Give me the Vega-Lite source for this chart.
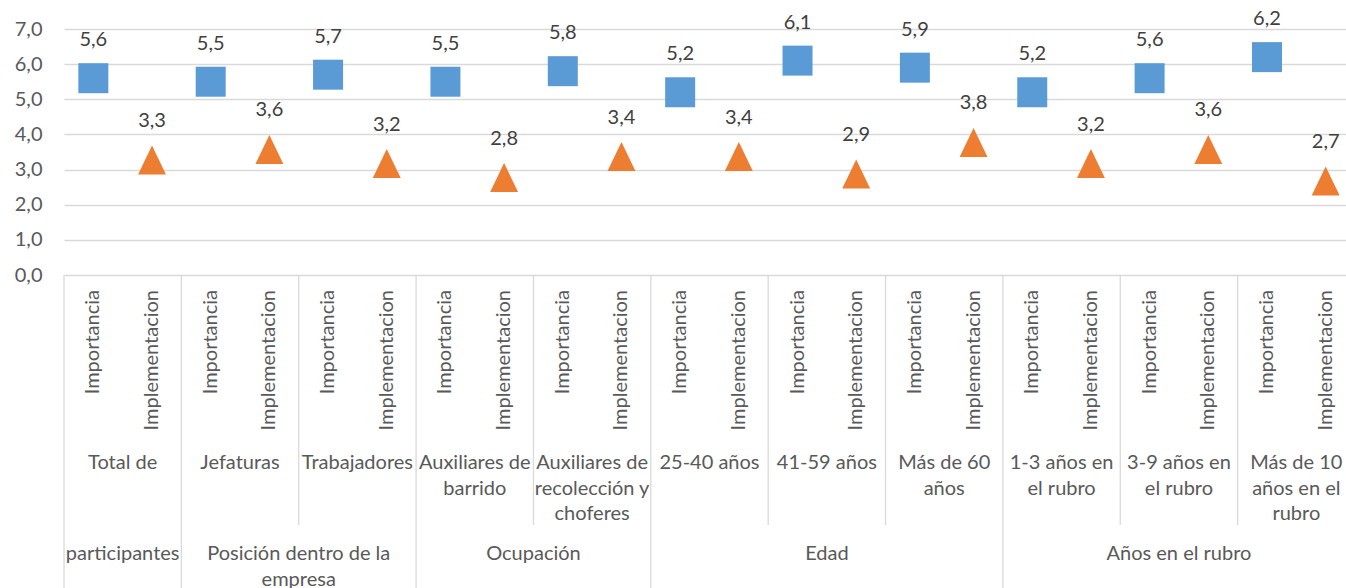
{
  "$schema": "https://vega.github.io/schema/vega-lite/v6.json",
  "autosize": {"type": "pad"},
  "padding": {"left": 14, "top": 9, "right": 0, "bottom": 0},
  "bounds": "flush",
  "spacing": 0,
  "config": {
    "locale": {"number": {"decimal": ",", "thousands": ".", "grouping": [3], "currency": ["", " €"]}},
    "font": "Lato",
    "view": {"stroke": null}
  },
  "datasets": {
    "puntos": [
      {"categoria": "Total de", "medida": "Importancia", "valor": 5.6},
      {"categoria": "Total de", "medida": "Implementacion", "valor": 3.3},
      {"categoria": "Jefaturas", "medida": "Importancia", "valor": 5.5},
      {"categoria": "Jefaturas", "medida": "Implementacion", "valor": 3.6},
      {"categoria": "Trabajadores", "medida": "Importancia", "valor": 5.7},
      {"categoria": "Trabajadores", "medida": "Implementacion", "valor": 3.2},
      {"categoria": "Auxiliares de\nbarrido", "medida": "Importancia", "valor": 5.5},
      {"categoria": "Auxiliares de\nbarrido", "medida": "Implementacion", "valor": 2.8},
      {"categoria": "Auxiliares de\nrecolección y\nchoferes", "medida": "Importancia", "valor": 5.8},
      {"categoria": "Auxiliares de\nrecolección y\nchoferes", "medida": "Implementacion", "valor": 3.4},
      {"categoria": "25-40 años", "medida": "Importancia", "valor": 5.2},
      {"categoria": "25-40 años", "medida": "Implementacion", "valor": 3.4},
      {"categoria": "41-59 años", "medida": "Importancia", "valor": 6.1},
      {"categoria": "41-59 años", "medida": "Implementacion", "valor": 2.9},
      {"categoria": "Más de 60\naños", "medida": "Importancia", "valor": 5.9},
      {"categoria": "Más de 60\naños", "medida": "Implementacion", "valor": 3.8},
      {"categoria": "1-3 años en\nel rubro", "medida": "Importancia", "valor": 5.2},
      {"categoria": "1-3 años en\nel rubro", "medida": "Implementacion", "valor": 3.2},
      {"categoria": "3-9 años en\nel rubro", "medida": "Importancia", "valor": 5.6},
      {"categoria": "3-9 años en\nel rubro", "medida": "Implementacion", "valor": 3.6},
      {"categoria": "Más de 10\naños en el\nrubro", "medida": "Importancia", "valor": 6.2},
      {"categoria": "Más de 10\naños en el\nrubro", "medida": "Implementacion", "valor": 2.7}
    ],
    "dimensiones": [
      {"dimension": "participantes", "desde": "Total de", "centro": "Total de", "grupos": 1},
      {"dimension": "Posición dentro de la\nempresa", "desde": "Jefaturas", "centro": "Trabajadores", "grupos": 2},
      {"dimension": "Ocupación", "desde": "Auxiliares de\nbarrido", "centro": "Auxiliares de\nrecolección y\nchoferes", "grupos": 2},
      {"dimension": "Edad", "desde": "25-40 años", "centro": "41-59 años", "grupos": 3},
      {"dimension": "Años en el rubro", "desde": "1-3 años en\nel rubro", "centro": "3-9 años en\nel rubro", "grupos": 3}
    ]
  },
  "vconcat": [
    {
      "width": 1291,
      "height": 246,
      "data": {"name": "puntos"},
      "encoding": {
        "y": {"field": "valor", "type": "quantitative",
          "scale": {"domain": [0, 7]},
          "axis": {"values": [0, 1, 2, 3, 4, 5, 6, 7], "format": ".1f", "title": null, "domain": false, "ticks": false,
            "labelPadding": 22, "labelFontSize": 20, "labelColor": "#595959", "labelFont": "Lato",
            "grid": true, "gridColor": "#d9d9d9", "gridWidth": 1.3}}
      },
      "layer": [
        {
          "transform": [{"filter": "datum.medida === 'Importancia'"}],
          "encoding": {
            "x": {"field": "categoria", "type": "nominal", "axis": null, "bandPosition": 0.25,
              "scale": {"type": "band", "paddingInner": 0, "paddingOuter": 0,
                "domain": ["Total de", "Jefaturas", "Trabajadores", "Auxiliares de\nbarrido", "Auxiliares de\nrecolección y\nchoferes", "25-40 años", "41-59 años", "Más de 60\naños", "1-3 años en\nel rubro", "3-9 años en\nel rubro", "Más de 10\naños en el\nrubro"]}}
          },
          "layer": [
            {"mark": {"type": "point", "shape": "square", "filled": true, "opacity": 1, "size": 900, "strokeWidth": 0, "color": "#5b9bd5"}},
            {"mark": {"type": "text", "dy": -38, "fontSize": 20, "color": "#404040", "baseline": "middle"},
             "encoding": {"text": {"field": "valor", "type": "quantitative", "format": ".1f"}}}
          ]
        },
        {
          "transform": [{"filter": "datum.medida === 'Implementacion'"}],
          "encoding": {
            "x": {"field": "categoria", "type": "nominal", "axis": null, "bandPosition": 0.75}
          },
          "layer": [
            {"mark": {"type": "point", "shape": "M0,-0.9L-0.93,1.03L0.93,1.03Z", "filled": true, "opacity": 1, "size": 900, "strokeWidth": 0, "color": "#ed7d31"}},
            {"mark": {"type": "text", "dy": -38, "fontSize": 20, "color": "#404040", "baseline": "middle"},
             "encoding": {"text": {"field": "valor", "type": "quantitative", "format": ".1f"}}}
          ]
        }
      ]
    },
    {
      "width": 1291,
      "height": 250,
      "data": {"name": "puntos"},
      "layer": [
        {
          "transform": [{"filter": "datum.medida === 'Importancia'"}],
          "mark": {"type": "rule", "color": "#d9d9d9", "strokeWidth": 1.3},
          "encoding": {"x": {"field": "categoria", "type": "nominal", "bandPosition": 0, "axis": null,
            "scale": {"type": "band", "paddingInner": 0, "paddingOuter": 0,
              "domain": ["Total de", "Jefaturas", "Trabajadores", "Auxiliares de\nbarrido", "Auxiliares de\nrecolección y\nchoferes", "25-40 años", "41-59 años", "Más de 60\naños", "1-3 años en\nel rubro", "3-9 años en\nel rubro", "Más de 10\naños en el\nrubro"]}}}
        },
        {
          "transform": [{"filter": "datum.medida === 'Importancia'"}],
          "mark": {"type": "text", "angle": 270, "align": "right", "baseline": "middle", "dx": 110, "fontSize": 20, "color": "#595959"},
          "encoding": {
            "x": {"field": "categoria", "type": "nominal", "bandPosition": 0.25},
            "text": {"field": "medida", "type": "nominal"}
          }
        },
        {
          "transform": [{"filter": "datum.medida === 'Implementacion'"}],
          "mark": {"type": "text", "angle": 270, "align": "right", "baseline": "middle", "dx": 110, "fontSize": 20, "color": "#595959"},
          "encoding": {
            "x": {"field": "categoria", "type": "nominal", "bandPosition": 0.75},
            "text": {"field": "medida", "type": "nominal"}
          }
        },
        {
          "transform": [{"filter": "datum.medida === 'Importancia'"}],
          "mark": {"type": "text", "align": "center", "baseline": "top", "dy": 53, "lineBreak": "\n", "lineHeight": 25.5, "fontSize": 20, "color": "#595959"},
          "encoding": {
            "x": {"field": "categoria", "type": "nominal", "bandPosition": 0.5},
            "text": {"field": "categoria", "type": "nominal"}
          }
        }
      ]
    },
    {
      "width": 1291,
      "height": 63,
      "data": {"name": "dimensiones"},
      "layer": [
        {
          "mark": {"type": "rule", "color": "#d9d9d9", "strokeWidth": 1.3},
          "encoding": {"x": {"field": "desde", "type": "nominal", "axis": null, "bandPosition": 0,
            "scale": {"type": "band", "paddingInner": 0, "paddingOuter": 0,
              "domain": ["Total de", "Jefaturas", "Trabajadores", "Auxiliares de\nbarrido", "Auxiliares de\nrecolección y\nchoferes", "25-40 años", "41-59 años", "Más de 60\naños", "1-3 años en\nel rubro", "3-9 años en\nel rubro", "Más de 10\naños en el\nrubro"]}}}
        },
        {
          "transform": [{"filter": "datum.grupos % 2 === 1"}],
          "mark": {"type": "text", "align": "center", "baseline": "top", "dy": -12.5, "lineBreak": "\n", "lineHeight": 25.5, "fontSize": 20, "color": "#595959"},
          "encoding": {
            "x": {"field": "centro", "type": "nominal", "bandPosition": 0.5},
            "text": {"field": "dimension", "type": "nominal"}
          }
        },
        {
          "transform": [{"filter": "datum.grupos % 2 === 0"}],
          "mark": {"type": "text", "align": "center", "baseline": "top", "dy": -12.5, "lineBreak": "\n", "lineHeight": 25.5, "fontSize": 20, "color": "#595959"},
          "encoding": {
            "x": {"field": "centro", "type": "nominal", "bandPosition": 0},
            "text": {"field": "dimension", "type": "nominal"}
          }
        }
      ]
    }
  ]
}
